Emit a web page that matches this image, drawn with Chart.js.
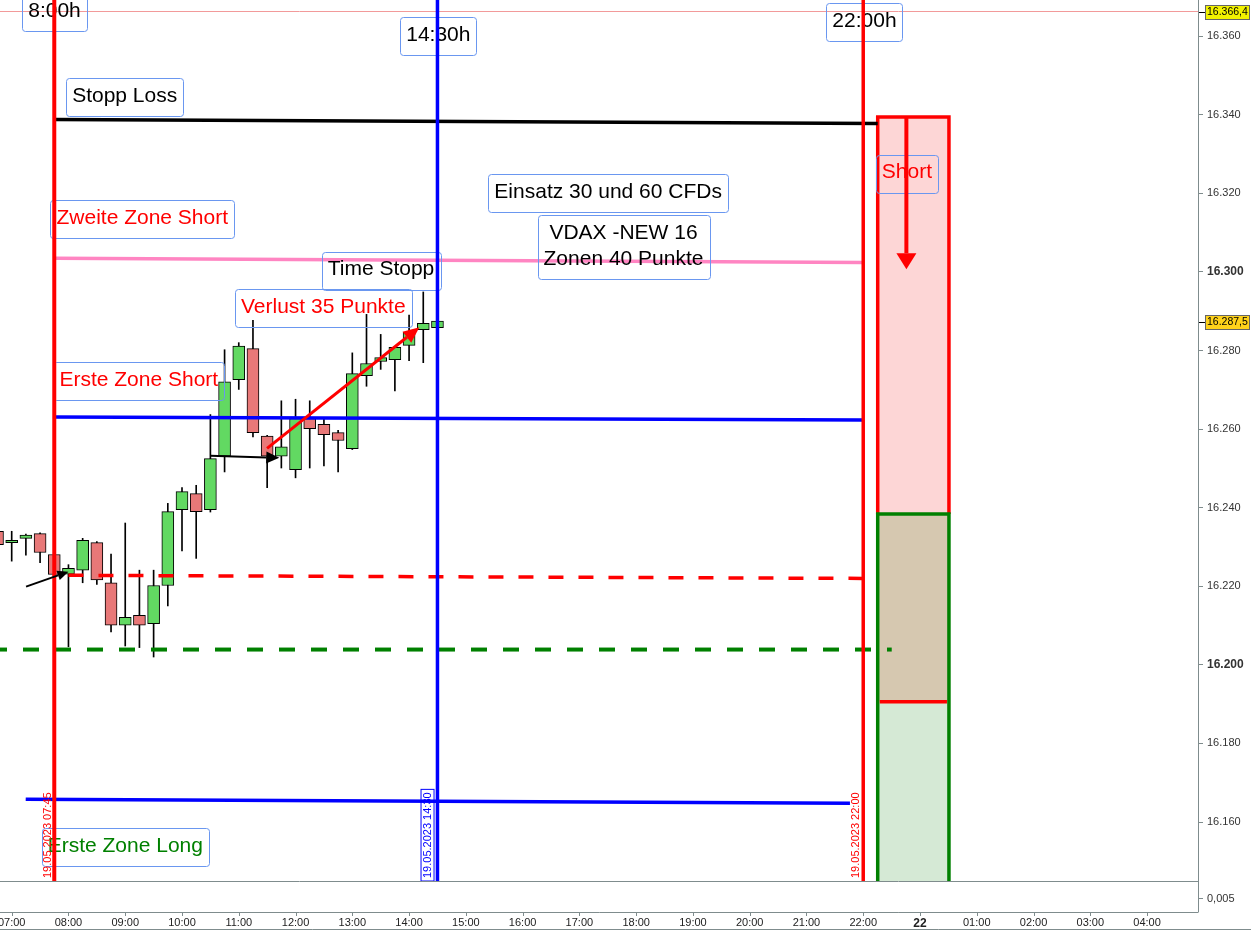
<!DOCTYPE html>
<html>
<head>
<meta charset="utf-8">
<script src="https://cdn.jsdelivr.net/npm/chart.js@4.4.1/dist/chart.umd.min.js"></script>
<style>
  html, body { margin: 0; padding: 0; background: #fff; }
  #wrap { width: 1251px; height: 930px; }
</style>
</head>
<body>
<div id="wrap"><canvas id="dax"></canvas></div>
<script>
// 15 min candles, time in hours of 19.05.2023
const candleTimes = [6.75, 7, 7.25, 7.5, 7.75, 8, 8.25, 8.5, 8.75, 9, 9.25, 9.5, 9.75, 10, 10.25, 10.5,
  10.75, 11, 11.25, 11.5, 11.75, 12, 12.25, 12.5, 12.75, 13, 13.25, 13.5, 13.75, 14, 14.25, 14.5];
const opens = [16234.0, 16231.1, 16232.2, 16233.4, 16228.1, 16223.1, 16224.1, 16231.1, 16220.9, 16210.1, 16212.6, 16210.5, 16220.2, 16239.5, 16243.6, 16239.5,
  16253.1, 16272.6, 16280.5, 16258.2, 16253.1, 16249.7, 16262.7, 16261.2, 16259.1, 16255.0, 16273.6, 16277.2, 16277.7, 16281.3, 16285.3, 16285.8];
const highs = [16235.0, 16234.0, 16233.3, 16233.6, 16228.3, 16225.5, 16232.2, 16231.4, 16228.2, 16236.1, 16224.1, 16224.1, 16241.1, 16245.1, 16245.7, 16263.7,
  16280.2, 16282.0, 16287.7, 16258.4, 16267.2, 16267.6, 16267.2, 16263.0, 16259.7, 16279.4, 16289.2, 16284.1, 16281.0, 16289.0, 16294.9, 16288.0];
const lows = [16229.5, 16226.4, 16227.9, 16226.0, 16222.5, 16204.6, 16220.9, 16220.5, 16208.4, 16204.8, 16204.4, 16202.0, 16215.0, 16229.0, 16227.1, 16238.9,
  16249.1, 16270.1, 16258.0, 16245.1, 16250.1, 16247.6, 16250.1, 16250.6, 16249.1, 16254.8, 16270.9, 16275.2, 16269.7, 16277.4, 16276.9, 16285.6];
const closes = [16230.6, 16231.7, 16233.0, 16228.6, 16223.0, 16224.6, 16231.7, 16221.6, 16210.1, 16212.1, 16210.1, 16220.2, 16239.0, 16244.1, 16239.0, 16252.5,
  16272.0, 16281.1, 16259.1, 16253.1, 16255.5, 16262.7, 16260.1, 16258.6, 16257.1, 16274.1, 16276.7, 16278.2, 16280.8, 16284.7, 16286.9, 16287.5];

// hour slots on the axis; after 22:00 Friday the session continues Monday the 22nd
const xTickHours = [7, 8, 9, 10, 11, 12, 13, 14, 15, 16, 17, 18, 19, 20, 21, 22, 23, 24, 25, 26, 27];
const xTickLabels = ['07:00', '08:00', '09:00', '10:00', '11:00', '12:00', '13:00', '14:00', '15:00', '16:00', '17:00',
  '18:00', '19:00', '20:00', '21:00', '22:00', '22', '01:00', '02:00', '03:00', '04:00'];
const yTickValues = [16160, 16180, 16200, 16220, 16240, 16260, 16280, 16300, 16320, 16340, 16360];
const highPrice = 16366.4;
const lastPrice = 16287.5;

// drawings on the chart, in hours / points
const hLines = [
  { from: [7.763, 16338.8], to: [22.255, 16337.8], color: '#000000', width: 3.5 },
  { from: [7.763, 16303.5], to: [21.996, 16302.4], color: '#ff85c2', width: 3.5 },
  { from: [7.763, 16263.1], to: [21.996, 16262.3], color: '#0000ff', width: 3.5 },
  { from: [8.0, 16222.8], to: [21.996, 16222.0], color: '#ff0000', width: 3.5, dash: [15, 15] },
  { from: [6.794, 16203.9], to: [22.502, 16203.9], color: '#008000', width: 4, dash: [16, 16], offset: 9 },
  { from: [7.247, 16165.8], to: [21.766, 16164.8], color: '#0000ff', width: 3.5 }
];
const vLines = [
  { at: 7.75, color: '#ff0000', width: 4 },
  { at: 14.5, color: '#0000ff', width: 3.5 },
  { at: 22, color: '#ff0000', width: 3.5 }
];
const textBoxes = [
  { text: ['8:00h'], at: [7.754, 16366.4], color: '#000000' },
  { text: ['14:30h'], at: [14.515, 16360.3], color: '#000000' },
  { text: ['22:00h'], at: [22.022, 16363.9], color: '#000000' },
  { text: ['Stopp Loss'], at: [8.99, 16344.7], color: '#000000' },
  { text: ['Zweite Zone Short'], at: [9.30, 16313.6], color: '#ff0000' },
  { text: ['Time Stopp'], at: [13.505, 16300.6], color: '#000000' },
  { text: ['Verlust 35 Punkte'], at: [12.489, 16291.0], color: '#ff0000' },
  { text: ['Einsatz 30 und 60 CFDs'], at: [17.507, 16320.3], color: '#000000' },
  { text: ['VDAX -NEW 16', 'Zonen 40 Punkte'], at: [17.777, 16306.5], color: '#000000' },
  { text: ['Erste Zone Short'], at: [9.239, 16272.5], color: '#ff0000' },
  { text: ['Erste Zone Long'], at: [9.001, 16153.9], color: '#008000' },
  { text: ['Short'], at: [22.77, 16325.3], color: '#ff0000' }
];
const dateTags = [
  { text: '19.05.2023 07:45', at: 7.637, color: '#ff0000', box: false },
  { text: '19.05.2023 14:30', at: 14.325, color: '#0000ff', box: true },
  { text: '19.05.2023 22:00', at: 21.864, color: '#ff0000', box: false }
];
const arrows = [
  { from: [7.253, 16219.9], to: [8.0, 16223.7], color: '#000000', width: 2, head: [11, 5] },
  { from: [10.498, 16253.2], to: [11.714, 16252.7], color: '#000000', width: 2, head: [13, 6] },
  { from: [11.498, 16255.1], to: [14.182, 16285.9], color: '#ff0000', width: 3, head: [16, 7] },
  { from: [22.76, 16339.2], to: [22.76, 16300.7], color: '#ff0000', width: 4, head: [16, 10] }
];
// short position tool: stop, target and entry levels
const posBox = { x0: 22.255, x1: 23.51, stop: 16339.4, target: 16238.4, entry: 16190.6 };

const fmtTick = v => (v / 1000).toFixed(3);
const fmtPrice = p => fmtTick(Math.floor(p)) + ',' + Math.round((p - Math.floor(p)) * 10);

const FONT = '"Liberation Sans", Arial, sans-serif';
const AXIS = '#7f8c8d';

const drawings = {
  id: 'drawings',
  beforeDatasetsDraw(chart) {
    const { ctx, chartArea: a, scales: { y } } = chart;
    ctx.save();
    ctx.strokeStyle = '#f29a9a';
    ctx.lineWidth = 1;
    const hy = Math.round(y.getPixelForValue(highPrice)) + 0.5;
    ctx.beginPath(); ctx.moveTo(a.left, hy); ctx.lineTo(a.right, hy); ctx.stroke();
    ctx.restore();
  },
  afterDatasetsDraw(chart) {
    const { ctx, chartArea: a, scales: { x, y } } = chart;
    const px = h => x.getPixelForValue(h);
    const py = p => y.getPixelForValue(p);
    ctx.save();
    ctx.beginPath();
    ctx.rect(a.left, a.top, a.right - a.left, a.bottom - a.top);
    ctx.clip();

    // position box
    const bx0 = px(posBox.x0), bx1 = px(posBox.x1);
    const yS = py(posBox.stop), yT = py(posBox.target), yE = py(posBox.entry);
    ctx.fillStyle = '#fdd6d6'; ctx.fillRect(bx0, yS, bx1 - bx0, yT - yS);
    ctx.fillStyle = '#d6c8b0'; ctx.fillRect(bx0, yT, bx1 - bx0, yE - yT);
    ctx.fillStyle = '#d5e9d5'; ctx.fillRect(bx0, yE, bx1 - bx0, a.bottom - yE);
    ctx.lineWidth = 3.5;
    ctx.strokeStyle = '#ff0000';
    ctx.beginPath();
    ctx.moveTo(bx0, yT); ctx.lineTo(bx0, yS); ctx.lineTo(bx1, yS); ctx.lineTo(bx1, yT);
    ctx.stroke();
    ctx.strokeStyle = '#008000';
    ctx.beginPath();
    ctx.moveTo(bx0, a.bottom); ctx.lineTo(bx0, yT); ctx.lineTo(bx1, yT); ctx.lineTo(bx1, a.bottom);
    ctx.stroke();
    ctx.strokeStyle = '#ff0000';
    ctx.beginPath(); ctx.moveTo(bx0 + 2, yE); ctx.lineTo(bx1 - 2, yE); ctx.stroke();

    // horizontal lines
    hLines.forEach(l => {
      ctx.strokeStyle = l.color;
      ctx.lineWidth = l.width;
      ctx.setLineDash(l.dash || []);
      ctx.lineDashOffset = l.offset || 0;
      ctx.beginPath();
      ctx.moveTo(px(l.from[0]), py(l.from[1]));
      ctx.lineTo(px(l.to[0]), py(l.to[1]));
      ctx.stroke();
    });
    ctx.setLineDash([]);

    // text boxes
    ctx.font = '21px ' + FONT;
    ctx.textAlign = 'center';
    ctx.textBaseline = 'middle';
    textBoxes.forEach(b => {
      const cx = px(b.at[0]), cy = py(b.at[1]);
      const w = Math.max(...b.text.map(t => ctx.measureText(t).width)) + 12;
      const h = b.text.length * 26 + 12;
      ctx.strokeStyle = '#6a97f0';
      ctx.lineWidth = 1;
      ctx.beginPath();
      ctx.roundRect(Math.round(cx - w / 2) + 0.5, Math.round(cy - h / 2 + 1) + 0.5, Math.round(w), Math.round(h), 3);
      ctx.stroke();
      ctx.fillStyle = b.color;
      b.text.forEach((t, i) => ctx.fillText(t, cx, cy + (i - (b.text.length - 1) / 2) * 26));
    });

    // vertical time lines
    vLines.forEach(l => {
      ctx.strokeStyle = l.color;
      ctx.lineWidth = l.width;
      ctx.beginPath();
      ctx.moveTo(px(l.at), a.top);
      ctx.lineTo(px(l.at), a.bottom);
      ctx.stroke();
    });

    // rotated date tags
    ctx.font = '11px ' + FONT;
    ctx.textAlign = 'left';
    dateTags.forEach(t => {
      const tx = px(t.at), ty = a.bottom - 3;
      const tw = ctx.measureText(t.text).width;
      ctx.save();
      ctx.translate(tx, ty);
      ctx.rotate(-Math.PI / 2);
      if (t.box) {
        ctx.strokeStyle = t.color;
        ctx.lineWidth = 1;
        ctx.strokeRect(-3, -6.5, tw + 6, 13);
      }
      ctx.fillStyle = t.color;
      ctx.fillText(t.text, 0, 0);
      ctx.restore();
    });

    // arrows
    arrows.forEach(r => {
      const x0 = px(r.from[0]), y0 = py(r.from[1]);
      const x1 = px(r.to[0]), y1 = py(r.to[1]);
      const ang = Math.atan2(y1 - y0, x1 - x0);
      const [len, half] = r.head;
      const bxp = x1 - len * Math.cos(ang), byp = y1 - len * Math.sin(ang);
      ctx.strokeStyle = r.color;
      ctx.fillStyle = r.color;
      ctx.lineWidth = r.width;
      ctx.beginPath(); ctx.moveTo(x0, y0); ctx.lineTo(bxp, byp); ctx.stroke();
      ctx.beginPath();
      ctx.moveTo(x1, y1);
      ctx.lineTo(bxp + half * Math.sin(ang), byp - half * Math.cos(ang));
      ctx.lineTo(bxp - half * Math.sin(ang), byp + half * Math.cos(ang));
      ctx.closePath();
      ctx.fill();
    });
    ctx.restore();

    // lower panel, axis frame and price markers
    ctx.save();
    const W = chart.width;
    const panelBottom = a.bottom + 31;
    ctx.strokeStyle = AXIS;
    ctx.lineWidth = 1;
    ctx.beginPath();
    ctx.moveTo(a.left, a.bottom + 0.5); ctx.lineTo(a.right, a.bottom + 0.5);
    ctx.moveTo(a.left, panelBottom + 0.5); ctx.lineTo(a.right + 0.5, panelBottom + 0.5);
    ctx.moveTo(a.right + 0.5, a.top); ctx.lineTo(a.right + 0.5, panelBottom);
    ctx.moveTo(a.left, 929.5); ctx.lineTo(W, 929.5);
    ctx.moveTo(a.right, 898.5); ctx.lineTo(a.right + 5, 898.5);
    xTickHours.forEach(h => {
      const tx = Math.round(px(h)) + 0.5;
      ctx.moveTo(tx, panelBottom); ctx.lineTo(tx, panelBottom + 4);
    });
    ctx.stroke();
    ctx.font = '11px ' + FONT;
    ctx.fillStyle = '#333';
    ctx.textAlign = 'left';
    ctx.textBaseline = 'middle';
    ctx.fillText('0,005', a.right + 9, 898.5);

    [[highPrice, '#f2f200'], [lastPrice, '#ffd21a']].forEach(([p, bg]) => {
      const my = Math.round(py(p)) + 1;
      ctx.strokeStyle = '#000';
      ctx.beginPath(); ctx.moveTo(a.right + 1, my + 0.5); ctx.lineTo(a.right + 7, my + 0.5); ctx.stroke();
      ctx.fillStyle = bg;
      ctx.fillRect(a.right + 7, my - 7, W - a.right - 8, 14);
      ctx.strokeStyle = '#666';
      ctx.strokeRect(a.right + 7.5, my - 6.5, W - a.right - 9, 14);
      ctx.fillStyle = '#000';
      ctx.font = '10.5px ' + FONT;
      ctx.fillText(fmtPrice(p), a.right + 9, my + 0.5);
    });
    ctx.restore();
  }
};

new Chart(document.getElementById('dax'), {
  type: 'bar',
  data: {
    datasets: [
      {
        label: 'Body',
        data: candleTimes.map((t, i) => ({ x: t, y: [opens[i], closes[i]] })),
        backgroundColor: candleTimes.map((t, i) => closes[i] >= opens[i] ? '#62d962' : '#e87878'),
        borderColor: '#000',
        borderWidth: 1,
        borderSkipped: false,
        barThickness: 12,
        grouped: false
      },
      {
        label: 'Wick',
        data: candleTimes.map((t, i) => ({ x: t, y: [lows[i], highs[i]] })),
        backgroundColor: '#000',
        barThickness: 1,
        grouped: false
      }
    ]
  },
  options: {
    responsive: true,
    maintainAspectRatio: false,
    animation: false,
    events: [],
    layout: { padding: 0 },
    plugins: { legend: { display: false }, tooltip: { enabled: false } },
    scales: {
      x: {
        type: 'linear',
        offset: false,
        min: 6.794,
        max: 27.897,
        bounds: 'data',
        grid: { display: false, drawTicks: false, offset: false },
        border: { display: false },
        afterBuildTicks: s => { s.ticks = xTickHours.map(v => ({ value: v })); },
        afterFit: s => { s.height = 49; s.paddingLeft = 0; s.paddingRight = 0; },
        ticks: {
          padding: 35,
          maxRotation: 0,
          autoSkip: false,
          color: '#222',
          font: c => ({ family: FONT, size: c.tick && c.tick.value === 23 ? 12 : 11, weight: c.tick && c.tick.value === 23 ? 'bold' : 'normal' }),
          callback: v => xTickLabels[xTickHours.indexOf(v)]
        }
      },
      y: {
        type: 'linear',
        position: 'right',
        min: 16145.0,
        max: 16369.2,
        bounds: 'data',
        grid: { display: true, drawOnChartArea: false, drawTicks: true, tickLength: 5, color: AXIS },
        border: { display: true, color: AXIS },
        afterBuildTicks: s => { s.ticks = yTickValues.map(v => ({ value: v })); },
        afterFit: s => { s.width = 53; s.paddingTop = 0; s.paddingBottom = 0; },
        ticks: {
          padding: 4,
          color: '#333',
          font: c => ({ family: FONT, size: c.tick && c.tick.value % 100 === 0 ? 12 : 11, weight: c.tick && c.tick.value % 100 === 0 ? 'bold' : 'normal' }),
          callback: v => fmtTick(v)
        }
      }
    }
  },
  plugins: [drawings]
});
</script>
</body>
</html>
